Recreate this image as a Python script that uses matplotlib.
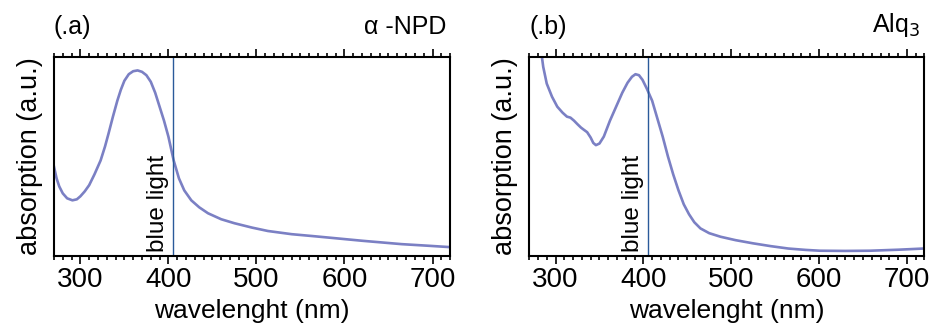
import matplotlib
matplotlib.use("Agg")
import matplotlib.pyplot as plt
from matplotlib.ticker import MultipleLocator, NullLocator

plt.rcParams['font.family'] = ['Liberation Sans', 'DejaVu Sans']

# alpha-NPD absorption spectrum (normalised, arbitrary units)
npd_wl = [270, 273, 276, 280, 285, 291, 296, 300, 305, 310, 316, 323, 328, 332,
          337, 342, 346, 350, 355, 360, 365, 370, 375, 380, 385, 390, 395, 400,
          406, 412, 418, 426, 435, 445, 460, 475, 495, 513, 540, 565, 589, 620,
          665, 695, 720]
npd_abs = [0.45, 0.39, 0.35, 0.315, 0.29, 0.28, 0.285, 0.30, 0.325, 0.356, 0.41,
           0.48, 0.55, 0.615, 0.70, 0.78, 0.835, 0.88, 0.913, 0.928, 0.932,
           0.925, 0.908, 0.875, 0.82, 0.75, 0.68, 0.60, 0.48, 0.39, 0.33, 0.28,
           0.245, 0.215, 0.185, 0.165, 0.143, 0.126, 0.11, 0.10, 0.09, 0.077,
           0.06, 0.052, 0.045]

# Alq3 absorption spectrum (normalised, arbitrary units)
alq_wl = [283, 286, 290, 296, 302, 308, 313, 317, 321, 325, 329, 332, 336, 340,
          343, 346, 350, 355, 362, 370, 376, 382, 387, 391, 395, 399, 404, 410,
          416, 422, 428, 434, 440, 446, 452, 458, 465, 475, 488, 505, 525, 545,
          565, 585, 601, 630, 658, 690, 719]
alq_abs = [1.05, 0.95, 0.866, 0.80, 0.75, 0.72, 0.70, 0.695, 0.68, 0.662, 0.645,
           0.635, 0.622, 0.595, 0.568, 0.557, 0.565, 0.60, 0.68, 0.76, 0.82, 0.87,
           0.90, 0.913, 0.908, 0.885, 0.84, 0.78, 0.69, 0.60, 0.50, 0.41, 0.33,
           0.26, 0.21, 0.17, 0.139, 0.115, 0.097, 0.08, 0.064, 0.05, 0.038,
           0.031, 0.027, 0.026, 0.027, 0.032, 0.038]

blue_light_nm = 405
panels = [
    ("(.a)", "\u03b1 -NPD", npd_wl, npd_abs),
    ("(.b)", r"Alq$_3$", alq_wl, alq_abs),
]
xticks = [300, 400, 500, 600, 700]

curve_color = "#7b80c4"
line_color = "#2a5a9a"

fig = plt.figure(figsize=(9.3, 3.25), dpi=100)
rects = [[0.058, 0.212, 0.426, 0.613], [0.569, 0.212, 0.425, 0.613]]

for rect, (tag, name, wl, ab) in zip(rects, panels):
    ax = fig.add_axes(rect)
    ax.plot(wl, ab, color=curve_color, lw=1.9, solid_joinstyle="round")
    ax.axvline(blue_light_nm, color=line_color, lw=1.0)
    ax.text(blue_light_nm - 4, 0.02, "blue light", rotation=90, ha="right",
            va="bottom", fontsize=17.5)
    ax.set_xlim(270, 720)
    ax.set_ylim(0, 1)
    ax.set_xticks(xticks)
    ax.xaxis.set_minor_locator(MultipleLocator(10))
    ax.yaxis.set_major_locator(NullLocator())
    ax.tick_params(axis="x", which="both", direction="out", top=True,
                   bottom=True, labelsize=20, width=1.2, pad=2)
    ax.tick_params(axis="x", which="major", length=6)
    ax.tick_params(axis="x", which="minor", length=3)
    for sp in ax.spines.values():
        sp.set_linewidth(1.5)
    ax.set_xlabel("wavelenght (nm)", fontsize=19, labelpad=4)
    ax.set_ylabel("absorption (a.u.)", fontsize=19.5, labelpad=8)
    ax.text(0.0, 1.09, tag, transform=ax.transAxes, ha="left", va="bottom",
            fontsize=18)
    ax.text(0.99, 1.09, name, transform=ax.transAxes, ha="right",
            va="bottom", fontsize=18)

fig.savefig("out.png", dpi=100)
